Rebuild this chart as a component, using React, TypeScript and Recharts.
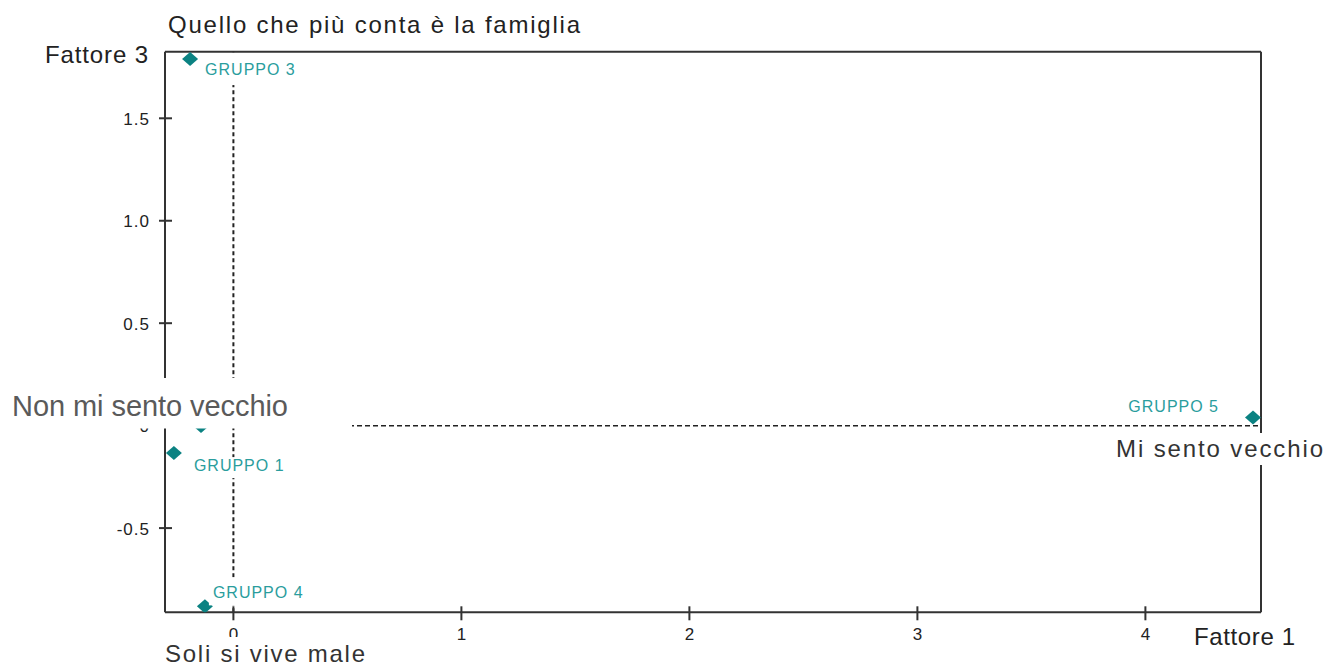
import React from 'react';
import { ScatterChart, Scatter, XAxis, YAxis, ReferenceLine } from 'recharts';

// ---- data ----
const groupNames = ['GRUPPO 1', 'GRUPPO 2', 'GRUPPO 3', 'GRUPPO 4', 'GRUPPO 5'];
const fattore1 = [-0.261, -0.142, -0.19, -0.125, 4.472];
const fattore3 = [-0.134, -0.002, 1.789, -0.882, 0.04];
const xTicks = [0, 1, 2, 3, 4];
const yTicks = [-0.5, 0, 0.5, 1.0, 1.5];
const xDomain = [-0.3, 4.507];
const yDomain = [-0.911, 1.825];

const titleText = 'Quello che più conta è la famiglia';
const yAxisName = 'Fattore 3';
const xAxisName = 'Fattore 1';
const leftPole = 'Non mi sento vecchio';
const rightPole = 'Mi sento vecchio';
const bottomPole = 'Soli si vive male';

// ---- label layout (styling only) ----
const labelLayout: Record<string, { dx: number; dy: number; anchor: 'start' | 'end'; box?: [number, number] }> = {
  'GRUPPO 1': { dx: 20, dy: 18, anchor: 'start', box: [-14, 7] },
  'GRUPPO 2': { dx: 12, dy: -12, anchor: 'start' },
  'GRUPPO 3': { dx: 15, dy: 16, anchor: 'start', box: [-22, 10] },
  'GRUPPO 4': { dx: 8, dy: -8, anchor: 'start', box: [-21, 7] },
  'GRUPPO 5': { dx: -34, dy: -5, anchor: 'end' },
};

const points = groupNames.map((name, i) => ({ name, x: fattore1[i], y: fattore3[i] }));

const FONT = '"Liberation Sans", Arial, sans-serif';
const TEAL = '#0b8282';
const TEAL_TEXT = '#2a9d9d';
const AXIS = '#333';

const DiamondShape = (props: any) => {
  const { cx, cy, payload } = props;
  const lay = labelLayout[payload.name];
  const hw = 8;
  const hh = 7;
  const tx = cx + lay.dx;
  const ty = cy + lay.dy;
  const textW = 91;
  const boxX = lay.anchor === 'start' ? tx - 4 : tx - textW - 4;
  return (
    <g>
      <polygon
        points={`${cx},${cy - hh} ${cx + hw},${cy} ${cx},${cy + hh} ${cx - hw},${cy}`}
        fill={TEAL}
      />
      {lay.box && (
        <rect x={boxX} y={ty + lay.box[0]} width={textW + 10} height={lay.box[1] - lay.box[0]} fill="#fff" />
      )}
      <text
        x={tx}
        y={ty}
        textAnchor={lay.anchor}
        fontFamily={FONT}
        fontSize={16}
        letterSpacing={1}
        fill={TEAL_TEXT}
      >
        {payload.name}
      </text>
    </g>
  );
};

const YTick = (props: any) => {
  const { x, y, payload } = props;
  const v = payload.value;
  const label = v === 0 ? '0' : v.toFixed(1);
  return (
    <g>
      <line x1={x - 6} x2={x + 7} y1={y} y2={y} stroke={AXIS} strokeWidth={2} />
      <text x={x - 15} y={y + 6.5} textAnchor="end" fontFamily={FONT} fontSize={17} letterSpacing={1} fill="#222">
        {label}
      </text>
    </g>
  );
};

const XTick = (props: any) => {
  const { x, y, payload } = props;
  return (
    <g>
      <line x1={x} x2={x} y1={y - 6} y2={y + 8} stroke={AXIS} strokeWidth={2} />
      <text x={x} y={y + 28} textAnchor="middle" fontFamily={FONT} fontSize={17} fill="#222">
        {String(payload.value)}
      </text>
    </g>
  );
};

const textStyle = { fontFamily: FONT };

export default function App() {
  return (
    <div style={{ position: 'absolute', left: 0, top: 0, width: 1327, height: 666, background: '#fff' }}>
      <div style={{ position: 'absolute', left: 0, top: 0 }}>
        <ScatterChart width={1327} height={666} margin={{ top: 51.7, right: 66, bottom: 13.7, left: 65 }}>
          <XAxis
            type="number"
            dataKey="x"
            domain={xDomain}
            ticks={xTicks}
            allowDataOverflow
            height={40}
            tickLine={false}
            tickSize={0}
            tickMargin={0}
            axisLine={{ stroke: AXIS, strokeWidth: 2 }}
            tick={<XTick />}
          />
          <YAxis
            type="number"
            dataKey="y"
            domain={yDomain}
            ticks={yTicks}
            allowDataOverflow
            width={100}
            tickLine={false}
            tickSize={0}
            tickMargin={0}
            axisLine={{ stroke: AXIS, strokeWidth: 2 }}
            tick={<YTick />}
          />
          <ReferenceLine y={yDomain[1]} stroke={AXIS} strokeWidth={2} />
          <ReferenceLine x={xDomain[1]} stroke={AXIS} strokeWidth={2} />
          <ReferenceLine x={0} stroke="#222" strokeWidth={2} strokeDasharray="4 3" />
          <ReferenceLine y={0} stroke="#222" strokeWidth={1.5} strokeDasharray="5 3" />
          <Scatter data={points} shape={<DiamondShape />} isAnimationActive={false} />
        </ScatterChart>
      </div>
      <svg
        width={1327}
        height={666}
        style={{ position: 'absolute', left: 0, top: 0, pointerEvents: 'none' }}
      >
        <text x={168} y={33} fontSize={24} textLength={412} lengthAdjust="spacing" fill="#222" style={textStyle}>
          {titleText}
        </text>
        <text x={45} y={63} fontSize={24} textLength={103} lengthAdjust="spacing" fill="#222" style={textStyle}>
          {yAxisName}
        </text>
        <rect x={0} y={378} width={352} height={50.5} fill="#fff" />
        <text x={12} y={416} fontSize={29} textLength={276} lengthAdjust="spacing" fill="#5a5a5a" style={textStyle}>
          {leftPole}
        </text>
        <rect x={1110} y={433} width={217} height={32} fill="#fff" />
        <text x={1116} y={457} fontSize={24} textLength={207} lengthAdjust="spacing" fill="#333" style={textStyle}>
          {rightPole}
        </text>
        <rect x={160} y={637} width={205} height={29} fill="#fff" />
        <text x={165} y={662} fontSize={24} textLength={200} lengthAdjust="spacing" fill="#333" style={textStyle}>
          {bottomPole}
        </text>
        <text x={1194} y={645} fontSize={24} textLength={101} lengthAdjust="spacing" fill="#222" style={textStyle}>
          {xAxisName}
        </text>
      </svg>
    </div>
  );
}
